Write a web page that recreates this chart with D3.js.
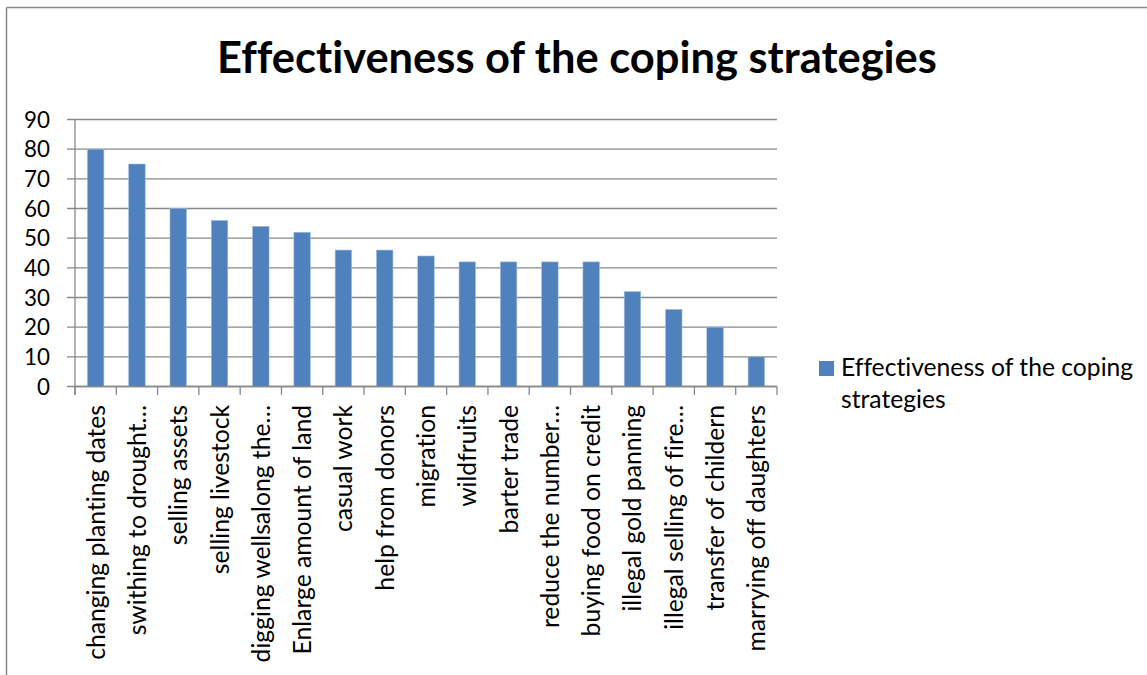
<!DOCTYPE html>
<html>
<head>
<meta charset="utf-8">
<script src="https://cdn.jsdelivr.net/npm/d3@7"></script>
<style>
html,body{margin:0;padding:0;background:#fff;}
svg{display:block;}
text{font-family:Lato, "Noto Sans", sans-serif; fill:#000; font-variant-ligatures:none; font-feature-settings:"liga" 0, "clig" 0, "dlig" 0;}
</style>
</head>
<body>
<svg id="chart" width="1147" height="675"></svg>
<script>
const title = "Effectiveness of the coping strategies";
const categories = [
  "changing planting dates",
  "swithing to drought…",
  "selling assets",
  "selling livestock",
  "digging wellsalong the…",
  "Enlarge amount of land",
  "casual work",
  "help from donors",
  "migration",
  "wildfruits",
  "barter trade",
  "reduce the number…",
  "buying food on credit",
  "illegal gold panning",
  "illegal selling of fire…",
  "transfer of childern",
  "marrying off daughters"
];
const values = [80, 75, 60, 56, 54, 52, 46, 46, 44, 42, 42, 42, 42, 32, 26, 20, 10];
const yTicks = [0, 10, 20, 30, 40, 50, 60, 70, 80, 90];
const legendLines = ["Effectiveness of the coping", "strategies"];

const svg = d3.select("#chart");
const W = 1147, H = 675;
const barColor = "#4F81BD";
const gridColor = "#888888";

// outer border (left and top visible)
svg.append("line").attr("x1", 6.5).attr("x2", 6.5).attr("y1", 7.5).attr("y2", H).attr("stroke", gridColor).attr("stroke-width", 1.5);
svg.append("line").attr("x1", 6.5).attr("x2", W).attr("y1", 7.5).attr("y2", 7.5).attr("stroke", gridColor).attr("stroke-width", 1.5);

function fitSize(sel, target, base) {
  const w = sel.node().getComputedTextLength();
  return base * target / w;
}

// title
const t = svg.append("text").attr("x", 577).attr("y", 72.5).attr("text-anchor", "middle")
  .style("font-weight", "bold").style("font-size", "40px").text(title);
t.style("font-size", fitSize(t, 720, 40) + "px");

const x = d3.scaleBand().domain(categories).range([75, 777]).paddingInner(0.6).paddingOuter(0.3);
const y = d3.scaleLinear().domain([0, 90]).range([386.5, 119.5]);

// gridlines
const g = svg.append("g");
g.selectAll("line.grid").data(yTicks).join("line")
  .attr("class", "grid")
  .attr("x1", 67).attr("x2", 777)
  .attr("y1", d => y(d)).attr("y2", d => y(d))
  .attr("stroke", gridColor).attr("stroke-width", 1.3);

// measure font sizes
const probe = svg.append("text").style("font-size", "25px").text(categories[0]);
const labelSize = fitSize(probe, 255, 25);
probe.text("90");
const tickSize = fitSize(probe, 26, 25);
probe.remove();

// y tick labels
g.selectAll("text.ytick").data(yTicks).join("text")
  .attr("class", "ytick")
  .attr("x", 50).attr("y", d => y(d)).attr("dy", "0.36em")
  .attr("text-anchor", "end")
  .style("font-size", tickSize + "px")
  .text(d => d);

// bars
svg.append("g").selectAll("rect").data(values).join("rect")
  .attr("x", (d, i) => x(categories[i]))
  .attr("width", x.bandwidth())
  .attr("y", d => y(d))
  .attr("height", d => y(0) - y(d))
  .attr("fill", barColor)
  .attr("stroke", "#a7bfde").attr("stroke-width", 0.6);

// axes lines
svg.append("line").attr("x1", 75).attr("x2", 75).attr("y1", y(90)).attr("y2", 395).attr("stroke", gridColor).attr("stroke-width", 1.3);
svg.append("line").attr("x1", 75).attr("x2", 777).attr("y1", y(0)).attr("y2", y(0)).attr("stroke", gridColor).attr("stroke-width", 1.3);
const step = x.step();
const bounds = d3.range(categories.length + 1).map(i => 75 + i * step);
svg.append("g").selectAll("line").data(bounds).join("line")
  .attr("x1", d => d).attr("x2", d => d).attr("y1", y(0)).attr("y2", 395)
  .attr("stroke", gridColor).attr("stroke-width", 1.3);

// x labels rotated
svg.append("g").selectAll("text").data(categories).join("text")
  .attr("transform", d => `translate(${x(d) + x.bandwidth() / 2 + 9},405) rotate(-90)`)
  .attr("text-anchor", "end")
  .style("font-size", labelSize + "px")
  .text(d => d);

// legend
svg.append("rect").attr("x", 819).attr("y", 361).attr("width", 15).attr("height", 15).attr("fill", barColor);
const lg = svg.append("g");
lg.selectAll("text").data(legendLines).join("text")
  .attr("x", 841).attr("y", (d, i) => 376 + i * 32)
  .style("font-size", labelSize + "px")
  .text(d => d);
</script>
</body>
</html>
